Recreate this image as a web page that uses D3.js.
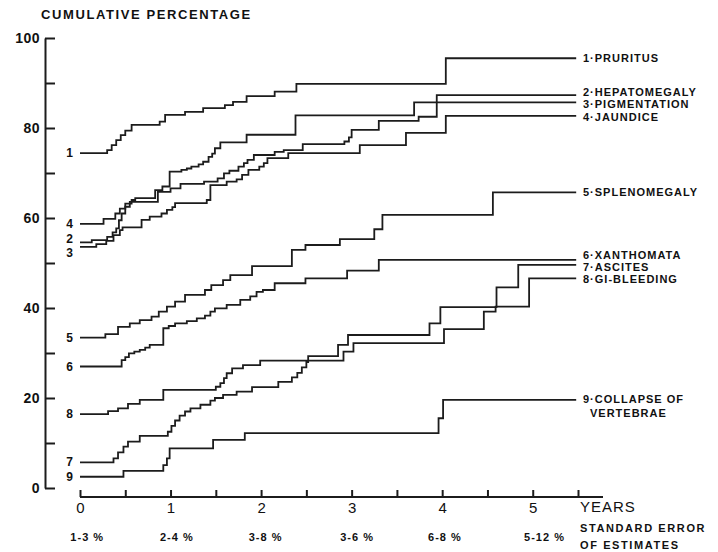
<!DOCTYPE html>
<html>
<head>
<meta charset="utf-8">
<script src="https://cdn.jsdelivr.net/npm/d3@7"></script>
<style>
body { margin: 0; background: #fff; }
svg { display: block; font-family: "Liberation Sans", Arial, sans-serif; }
.curve { fill: none; stroke: #1c1c1c; stroke-width: 1.8; }
.axis path, .axis line { stroke: #1c1c1c; stroke-width: 2; }
.lbl { font-weight: bold; fill: #111; }
</style>
</head>
<body>
<div id="chart"></div>
<script>
// Follow-up ends a little before 5.5 years
const followEnd = 5.48;

// Step curves: [year, cumulative %] at each step
const pruritus = [[0,74.4],[0.30,75.1],[0.35,76.2],[0.40,77.3],[0.45,78.4],[0.50,79.4],[0.57,80.7],[0.88,81.4],[0.94,82.9],[1.16,83.6],[1.36,84.4],[1.60,85.1],[1.69,85.8],[1.84,87.1],[2.15,88.1],[2.39,89.8],[4.04,95.5]];
const curve4 = [[0,58.7],[0.26,59.8],[0.39,61.0],[0.44,62.1],[0.50,63.2],[0.57,64.0],[0.61,64.4],[0.83,66.2],[0.91,67.0],[0.99,70.3],[1.12,70.7],[1.18,71.0],[1.23,71.4],[1.31,71.9],[1.36,72.5],[1.42,73.6],[1.46,74.3],[1.49,75.5],[1.55,76.8],[1.84,78.5],[2.38,82.8],[3.69,85.7]];
const curve2 = [[0,54.6],[0.13,55.1],[0.30,55.8],[0.36,56.8],[0.40,57.7],[0.43,59.5],[0.46,61.0],[0.50,62.5],[0.55,63.6],[0.86,65.8],[1.00,66.6],[1.11,67.6],[1.37,68.1],[1.52,68.8],[1.59,69.9],[1.65,70.5],[1.75,71.4],[1.81,72.2],[1.85,72.9],[1.92,74.0],[2.15,74.7],[2.25,75.1],[2.46,76.4],[2.92,77.0],[2.97,77.9],[3.00,79.6],[3.30,81.6],[3.74,82.5],[3.94,87.3]];
const curve3 = [[0,53.6],[0.18,54.2],[0.29,54.9],[0.37,56.2],[0.44,57.3],[0.47,57.9],[0.68,59.6],[0.77,60.3],[0.90,61.0],[0.96,61.8],[1.02,62.4],[1.05,63.3],[1.40,64.0],[1.44,67.3],[1.62,68.1],[1.73,68.6],[1.79,69.6],[1.86,70.7],[1.98,71.4],[2.03,72.2],[2.07,73.3],[2.30,74.4],[3.09,76.2],[3.60,78.9],[4.04,82.7]];
const splenomegaly = [[0,33.4],[0.28,34.2],[0.42,35.8],[0.55,36.6],[0.66,37.3],[0.79,38.1],[0.87,39.2],[0.96,40.3],[1.05,41.4],[1.16,42.9],[1.38,44.0],[1.45,45.1],[1.58,46.2],[1.66,47.3],[1.90,49.3],[2.34,52.9],[2.49,54.0],[2.87,55.3],[3.25,57.5],[3.34,60.7],[4.56,65.7]];
const xanthomata = [[0,27.0],[0.46,28.4],[0.50,29.1],[0.54,29.9],[0.60,30.3],[0.66,30.7],[0.72,31.2],[0.77,31.8],[0.92,35.5],[0.98,36.0],[1.05,36.6],[1.18,37.1],[1.29,37.7],[1.38,38.3],[1.44,39.2],[1.49,39.9],[1.62,40.7],[1.77,41.8],[1.88,42.6],[1.95,43.6],[2.02,44.0],[2.15,45.5],[2.49,46.6],[2.95,48.3],[3.30,50.7]];
const ascites = [[0,5.7],[0.37,6.6],[0.42,7.9],[0.48,9.2],[0.53,10.3],[0.66,11.6],[0.97,12.5],[1.01,13.8],[1.05,15.0],[1.10,16.1],[1.16,17.0],[1.22,17.7],[1.33,18.5],[1.44,19.4],[1.49,20.0],[1.58,20.7],[1.73,21.4],[1.90,22.4],[2.19,23.6],[2.34,24.6],[2.40,25.6],[2.45,26.8],[2.50,28.0],[2.52,29.3],[2.85,31.8],[2.96,34.0],[3.86,36.6],[3.98,40.2],[4.60,44.6],[4.84,49.6]];
const giBleeding = [[0,16.4],[0.31,17.1],[0.42,17.7],[0.53,18.7],[0.66,19.6],[0.92,21.8],[1.50,22.5],[1.55,23.3],[1.59,24.4],[1.62,25.5],[1.68,26.6],[1.80,27.3],[1.99,28.3],[2.91,30.3],[3.02,32.2],[4.02,35.3],[4.46,39.2],[4.59,40.3],[4.96,46.6]];
const vertebrae = [[0,2.5],[0.48,3.8],[0.92,5.1],[0.96,6.6],[0.99,8.8],[1.47,10.7],[1.82,12.2],[3.96,15.5],[4.01,19.6]];

// Numbers at the start of the curves, with the % they sit at
const startNums = ["1","4","2","3","5","6","8","7","9"];
const startVals = [74.4, 58.7, 55.3, 52.2, 33.3, 26.9, 16.4, 5.8, 2.4];

// Names at the right end, with the % they sit at
const endNames = ["1·PRURITUS","2·HEPATOMEGALY","3·PIGMENTATION","4·JAUNDICE","5·SPLENOMEGALY","6·XANTHOMATA","7·ASCITES","8·GI-BLEEDING","9·COLLAPSE OF"];
const endVals = [95.6, 88.0, 85.3, 82.4, 65.8, 51.8, 49.1, 46.4, 19.8];

// Standard error per year band
const seBands = [0.08, 1.07, 2.05, 3.06, 4.03, 5.13];
const seLabels = ["1-3 %","2-4 %","3-8 %","3-6 %","6-8 %","5-12 %"];

const W = 718, H = 552;
const svg = d3.select("#chart").append("svg").attr("width", W).attr("height", H);

const x = d3.scaleLinear().domain([0, 5.5]).range([80, 578]);
const y = d3.scaleLinear().domain([0, 100]).range([488, 38]);

// Title
svg.append("text").attr("class", "lbl")
    .attr("x", 41).attr("y", 14).attr("dy", "0.35em")
    .attr("font-size", 13).attr("letter-spacing", 1.6)
    .text("CUMULATIVE PERCENTAGE");

// Y axis, ticks pointing right
const yAxis = svg.append("g").attr("class", "axis")
    .attr("transform", "translate(45,0)")
    .call(d3.axisLeft(y).tickValues(d3.range(0, 101, 10))
        .tickSizeInner(-10).tickSizeOuter(0).tickPadding(5)
        .tickFormat(d => d % 20 === 0 ? d : ""));
yAxis.selectAll("text").attr("font-size", 14).attr("font-weight", "bold")
    .attr("letter-spacing", 0.5).attr("fill", "#111")
    .attr("font-family", "'Liberation Sans', Arial, sans-serif");

// X axis, ticks pointing up
const xAxis = svg.append("g").attr("class", "axis")
    .attr("transform", "translate(0,497)")
    .call(d3.axisBottom(x).tickValues(d3.range(0, 5.51, 0.5))
        .tickSizeInner(-7).tickSizeOuter(0).tickPadding(5)
        .tickFormat(d => Number.isInteger(d) ? d : ""));
xAxis.select(".domain").remove();
xAxis.append("line").attr("x1", x(0)).attr("x2", x(5.5) + 25);
xAxis.selectAll("text").attr("font-size", 15).attr("fill", "#111")
    .attr("font-family", "'Liberation Sans', Arial, sans-serif");

svg.append("text").attr("x", 580).attr("y", 507).attr("dy", "0.35em")
    .attr("font-size", 15).attr("letter-spacing", 1).attr("fill", "#111")
    .text("YEARS");

// Standard error row
svg.selectAll(".se").data(seLabels).join("text").attr("class", "lbl se")
    .attr("x", (d, i) => x(seBands[i])).attr("y", 537).attr("dy", "0.35em")
    .attr("text-anchor", "middle").attr("font-size", 11).attr("letter-spacing", 1)
    .text(d => d);
svg.append("text").attr("class", "lbl").attr("x", 580).attr("y", 528).attr("dy", "0.35em")
    .attr("font-size", 11).attr("letter-spacing", 1.6).text("STANDARD ERROR");
svg.append("text").attr("class", "lbl").attr("x", 580).attr("y", 545).attr("dy", "0.35em")
    .attr("font-size", 11).attr("letter-spacing", 1.6).text("OF ESTIMATES");

// Curves
const curves = [pruritus, curve4, curve2, curve3, splenomegaly, xanthomata, ascites, giBleeding, vertebrae];
const line = d3.line().curve(d3.curveStepAfter)
    .x(d => x(d[0])).y(d => y(d[1]));
svg.selectAll(".curve").data(curves).join("path").attr("class", "curve")
    .attr("d", d => line(d.concat([[followEnd, d[d.length - 1][1]]])));

// Start numbers
svg.selectAll(".num").data(startNums).join("text").attr("class", "lbl num")
    .attr("x", 73).attr("y", (d, i) => y(startVals[i])).attr("dy", "0.35em")
    .attr("text-anchor", "end").attr("font-size", 12)
    .text(d => d);

// End names
svg.selectAll(".name").data(endNames).join("text").attr("class", "lbl name")
    .attr("x", 583).attr("y", (d, i) => y(endVals[i])).attr("dy", "0.35em")
    .attr("font-size", 11).attr("letter-spacing", 1)
    .text(d => d);
svg.append("text").attr("class", "lbl").attr("x", 590).attr("y", y(16.7)).attr("dy", "0.35em")
    .attr("font-size", 11).attr("letter-spacing", 1).text("VERTEBRAE");
</script>
</body>
</html>
